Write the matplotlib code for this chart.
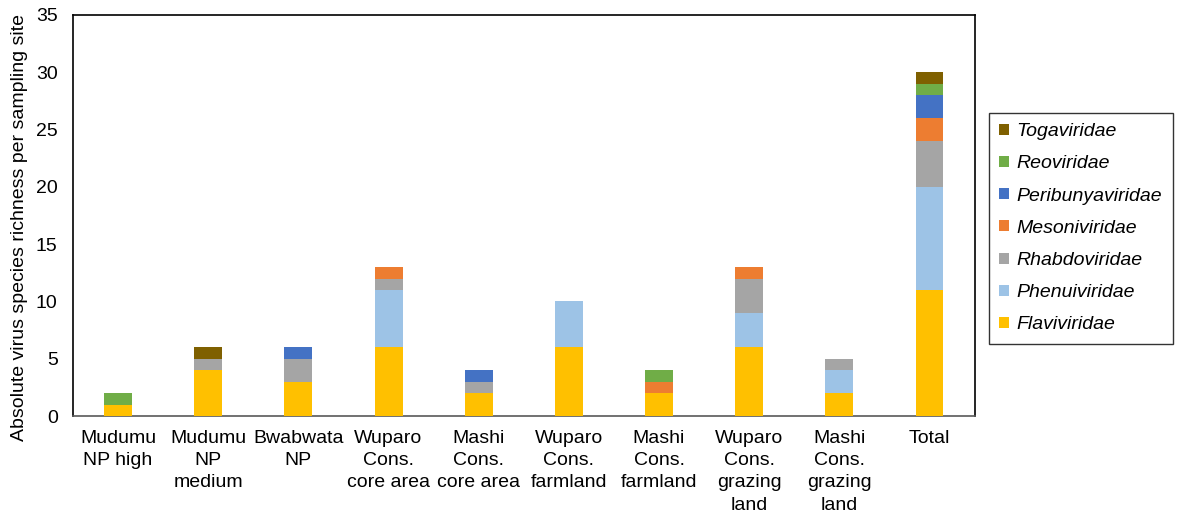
import numpy as np
import matplotlib.pyplot as plt

plt.rcParams['font.family'] = ['Liberation Sans', 'DejaVu Sans']

sites = ["Mudumu\nNP high", "Mudumu\nNP\nmedium", "Bwabwata\nNP", "Wuparo\nCons.\ncore area",
         "Mashi\nCons.\ncore area", "Wuparo\nCons.\nfarmland", "Mashi\nCons.\nfarmland",
         "Wuparo\nCons.\ngrazing\nland", "Mashi\nCons.\ngrazing\nland", "Total"]

# stacked bottom -> top
families = ["Flaviviridae", "Phenuiviridae", "Rhabdoviridae", "Mesoniviridae",
            "Peribunyaviridae", "Reoviridae", "Togaviridae"]
flavi = [1, 4, 3, 6, 2, 6, 2, 6, 2, 11]
phenui = [0, 0, 0, 5, 0, 4, 0, 3, 2, 9]
rhabdo = [0, 1, 2, 1, 1, 0, 0, 3, 1, 4]
meson = [0, 0, 0, 1, 0, 0, 1, 1, 0, 2]
peribunya = [0, 0, 1, 0, 1, 0, 0, 0, 0, 2]
reo = [1, 0, 0, 0, 0, 0, 1, 0, 0, 1]
toga = [0, 1, 0, 0, 0, 0, 0, 0, 0, 1]
colors = ["#FFC000", "#9DC3E6", "#A5A5A5", "#ED7D31", "#4472C4", "#70AD47", "#7F6000"]

fig = plt.figure(figsize=(11.77, 5.15), dpi=100)
ax = fig.add_axes([0.062, 0.192, 0.766, 0.779])

x = np.arange(len(sites))
bottom = np.zeros(len(sites))
for name, vals, c in zip(families, [flavi, phenui, rhabdo, meson, peribunya, reo, toga], colors):
    vals = np.array(vals, dtype=float)
    ax.bar(x, vals, 0.31, bottom=bottom, color=c, label=name, zorder=3)
    bottom += vals

ax.set_xlim(-0.5, len(sites) - 0.5)
ax.set_ylim(0, 35)
ax.set_yticks(range(0, 36, 5))
ax.set_xticks(x)
ax.set_xticklabels(sites, fontsize=14, linespacing=1.4)
ax.tick_params(axis='y', labelsize=14, length=0, pad=11)
ax.tick_params(axis='x', length=0, pad=10)
ax.set_ylabel("Absolute virus species richness per sampling site", fontsize=14)
ax.yaxis.set_label_coords(-0.05, 0.47)
for s in ax.spines.values():
    s.set_linewidth(1.2)
    s.set_color("black")
ax.spines['bottom'].set_color("#595959")

h, l = ax.get_legend_handles_labels()
leg = fig.legend(h[::-1], l[::-1], loc='upper left', bbox_to_anchor=(0.840, 0.781),
                 prop={'size': 14, 'style': 'italic'}, frameon=True, fancybox=False,
                 edgecolor='black', handlelength=0.5, handleheight=0.5, handletextpad=0.4,
                 labelspacing=0.78, borderpad=0.54, borderaxespad=0)
leg.get_frame().set_linewidth(1.0)

fig.savefig("out.png", dpi=100)
